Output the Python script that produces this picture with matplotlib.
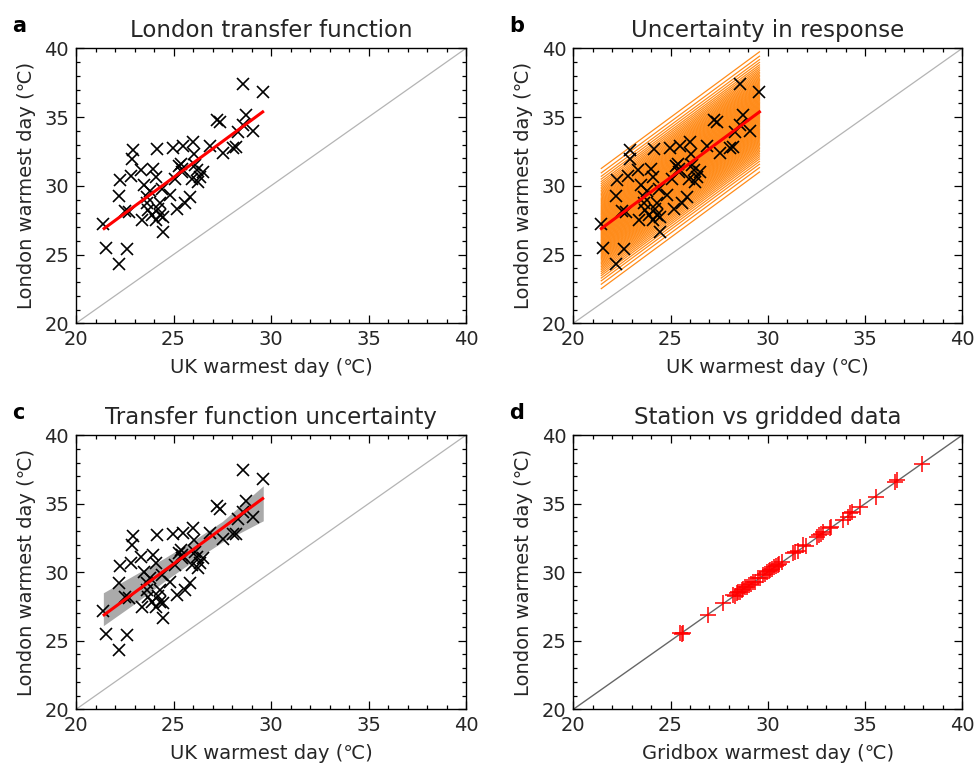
import matplotlib
matplotlib.use('Agg')
import matplotlib.pyplot as plt
import numpy as np
from matplotlib.ticker import MultipleLocator

# UK vs London warmest day (panels a-c)
uk_day = [21.40, 21.52, 22.60, 22.21, 22.22, 22.26, 22.50, 22.70, 22.82, 22.91,
          22.89, 23.33, 23.37, 23.49, 23.62, 23.62, 23.71, 23.88, 23.97, 24.10,
          24.14, 24.10, 24.31, 24.31, 24.44, 24.48, 24.39, 24.82, 24.96, 25.16,
          25.08, 25.30, 25.42, 25.37, 25.50, 25.59, 25.85, 25.93, 26.02, 26.05,
          26.10, 26.19, 26.27, 26.36, 26.53, 26.87, 27.52, 27.21, 27.38, 28.07,
          28.21, 28.33, 28.55, 28.72, 28.58, 29.06, 29.57, 24.20, 25.45, 23.80]
london_day = [27.20, 25.48, 25.41, 24.34, 29.24, 30.45, 28.20, 28.10, 30.69, 32.63,
              31.98, 31.13, 27.49, 30.04, 29.19, 28.71, 28.22, 27.85, 31.25, 30.64,
              32.70, 27.49, 28.71, 27.85, 27.73, 26.64, 29.80, 29.31, 32.78, 28.34,
              30.52, 31.42, 31.25, 31.61, 32.87, 28.71, 29.19, 30.52, 33.19, 32.34,
              31.49, 31.13, 30.28, 30.64, 31.00, 32.87, 32.39, 34.81, 34.64, 32.78,
              32.82, 33.91, 37.43, 35.18, 34.40, 33.99, 36.83, 28.30, 31.00, 29.60]

# fitted transfer function
fit_x = [21.44, 29.57]
fit_y = [26.89, 35.37]

# spread of response lines (panel b), positive half, mirrored below
resp_offsets_half = [4.37, 4.05, 3.80, 3.60, 3.42, 3.27, 3.13, 3.00, 2.88, 2.77,
                     2.66, 2.56, 2.46, 2.37, 2.28, 2.19, 2.11, 2.03, 1.95, 1.87,
                     1.80, 1.72, 1.65, 1.58, 1.51, 1.44, 1.37, 1.30, 1.24, 1.17,
                     1.10, 1.04, 0.98, 0.91, 0.85, 0.79, 0.72, 0.66, 0.60, 0.54,
                     0.48, 0.42, 0.36, 0.30, 0.24, 0.18, 0.12, 0.06]

# envelope of transfer function uncertainty (panel c)
env_x = [21.40, 23.00, 24.50, 26.00, 27.50, 29.60]
env_upper = [28.50, 29.80, 31.00, 32.30, 33.70, 36.30]
env_lower = [26.10, 27.70, 29.30, 30.80, 32.20, 33.75]

# station vs gridbox (panel d)
grid_day = [25.50, 25.60, 25.65, 26.94, 27.71, 28.23, 28.30, 28.40, 28.48, 28.55,
            28.65, 28.75, 28.85, 28.95, 29.05, 29.15, 29.25, 29.35, 29.50, 29.62,
            29.75, 29.85, 29.95, 30.05, 30.12, 30.20, 30.30, 30.40, 30.50, 30.60,
            30.75, 31.31, 31.40, 31.55, 31.83, 31.95, 32.51, 32.65, 32.75, 32.85,
            33.20, 33.25, 33.88, 34.10, 34.23, 34.35, 34.74, 35.56, 36.54, 36.66,
            37.91]
station_day = [25.54, 25.50, 25.58, 26.87, 27.73, 28.33, 28.30, 28.45, 28.55, 28.52,
               28.70, 28.78, 28.90, 28.95, 29.10, 29.12, 29.30, 29.32, 29.55, 29.60,
               29.80, 29.90, 29.98, 30.10, 30.15, 30.25, 30.35, 30.42, 30.55, 30.62,
               30.78, 31.37, 31.45, 31.58, 31.98, 31.92, 32.58, 32.68, 32.80, 32.90,
               33.19, 33.30, 33.80, 34.05, 34.29, 34.38, 34.77, 35.45, 36.59, 36.76,
               37.88]

resp_offsets = resp_offsets_half + [0.0] + [-o for o in resp_offsets_half]

txt_col = '#262626'
fig = plt.figure(figsize=(9.75, 7.66), dpi=100)
boxes = {'a': [0.078, 0.578, 0.400, 0.359],
         'b': [0.588, 0.578, 0.399, 0.359],
         'c': [0.078, 0.074, 0.400, 0.358],
         'd': [0.588, 0.074, 0.399, 0.358]}
titles = {'a': 'London transfer function',
          'b': 'Uncertainty in response',
          'c': 'Transfer function uncertainty',
          'd': 'Station vs gridded data'}
xlabels = {'a': 'UK warmest day (\u2103)', 'b': 'UK warmest day (\u2103)',
           'c': 'UK warmest day (\u2103)', 'd': 'Gridbox warmest day (\u2103)'}

axes = {}
for key, box in boxes.items():
    ax = fig.add_axes(box)
    axes[key] = ax
    ax.set_xlim(20, 40)
    ax.set_ylim(20, 40)
    ax.xaxis.set_major_locator(MultipleLocator(5))
    ax.yaxis.set_major_locator(MultipleLocator(5))
    ax.xaxis.set_minor_locator(MultipleLocator(1))
    ax.yaxis.set_minor_locator(MultipleLocator(1))
    ax.tick_params(which='both', direction='in', top=True, right=True,
                   labelsize=14, width=0.9, pad=5, labelcolor=txt_col)
    ax.tick_params(which='major', length=6)
    ax.tick_params(which='minor', length=3)
    for s in ax.spines.values():
        s.set_linewidth(1.0)
    ax.set_title(titles[key], fontsize=16.5, pad=8, color=txt_col)
    ax.set_xlabel(xlabels[key], fontsize=14, labelpad=6, color=txt_col)
    ax.set_ylabel('London warmest day (\u2103)', fontsize=14, labelpad=6, color=txt_col)
    fig.text(box[0] - 0.066, box[1] + box[3] + 0.016, key, fontsize=15,
             fontweight='bold', ha='left', va='bottom')

diag_col = '#b4b4b4'
for key in ['a', 'b', 'c']:
    axes[key].plot([20, 40], [20, 40], color=diag_col, lw=0.9, zorder=1)

# a
ax = axes['a']
ax.plot(uk_day, london_day, 'x', color='black', ms=9, mew=1.2, zorder=3)
ax.plot(fit_x, fit_y, color='red', lw=2.2, zorder=4)

# b
ax = axes['b']
for off in resp_offsets:
    ax.plot(fit_x, [fit_y[0] + off, fit_y[1] + off], color='#ff8c1a', lw=0.9, zorder=2)
ax.plot(uk_day, london_day, 'x', color='black', ms=9, mew=1.2, zorder=3)
ax.plot(fit_x, fit_y, color='red', lw=2.2, zorder=4)

# c
ax = axes['c']
ax.fill_between(env_x, env_lower, env_upper, color='#aaaaaa', lw=0, zorder=2)
ax.plot(uk_day, london_day, 'x', color='black', ms=9, mew=1.2, zorder=3)
ax.plot(fit_x, fit_y, color='red', lw=2.2, zorder=4)

# d
ax = axes['d']
ax.plot([20, 40], [20, 40], color='#666666', lw=1.0, zorder=1)
ax.plot(grid_day, station_day, '+', color='red', ms=11, mew=1.1, zorder=3)

fig.savefig('out.png', dpi=100)
